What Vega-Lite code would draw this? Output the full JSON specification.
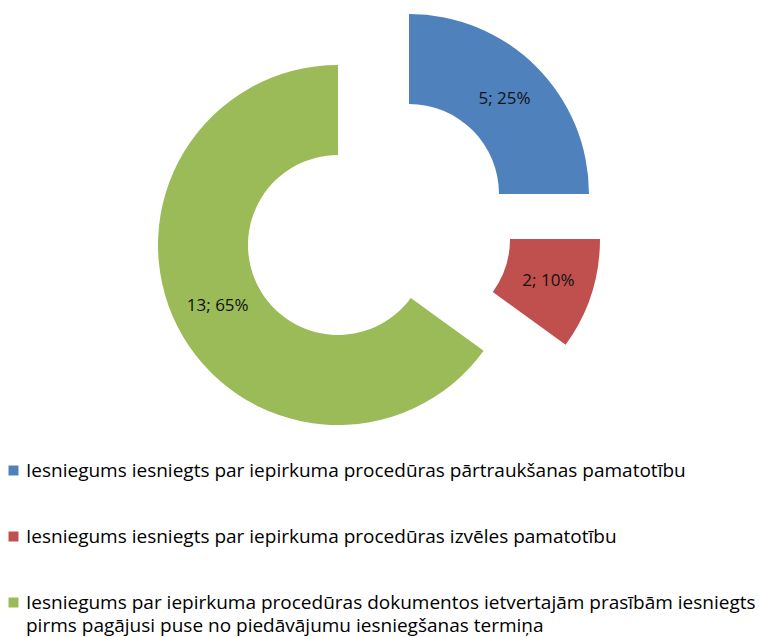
{
  "$schema": "https://vega.github.io/schema/vega-lite/v6.json",
  "width": 756,
  "height": 450,
  "padding": 0,
  "background": "white",
  "data": {"values": [
    {"category": "Iesniegums iesniegts par iepirkuma procedūras pārtraukšanas pamatotību", "value": 5, "order": 1},
    {"category": "Iesniegums iesniegts par iepirkuma procedūras izvēles pamatotību", "value": 2, "order": 2},
    {"category": "Iesniegums par iepirkuma procedūras dokumentos ietvertajām prasībām iesniegts pirms pagājusi puse no piedāvājumu iesniegšanas termiņa", "value": 13, "order": 3}
  ]},
  "transform": [
    {"joinaggregate": [{"op": "sum", "field": "value", "as": "total"}]},
    {"window": [{"op": "sum", "field": "value", "as": "cumEnd"}], "sort": [{"field": "order"}], "frame": [null, 0]},
    {"calculate": "datum.cumEnd - datum.value", "as": "cumStart"},
    {"calculate": "(datum.cumEnd + datum.cumStart) / 2", "as": "cumMid"},
    {"calculate": "datum.value + '; ' + format(datum.value / datum.total, '.0%')", "as": "label"}
  ],
  "encoding": {
    "color": {
      "field": "category", "type": "nominal",
      "scale": {
        "domain": [
          "Iesniegums iesniegts par iepirkuma procedūras pārtraukšanas pamatotību",
          "Iesniegums iesniegts par iepirkuma procedūras izvēles pamatotību",
          "Iesniegums par iepirkuma procedūras dokumentos ietvertajām prasībām iesniegts pirms pagājusi puse no piedāvājumu iesniegšanas termiņa"
        ],
        "range": ["#4F81BD", "#C0504D", "#9BBB59"]
      },
      "legend": {
        "orient": "none", "legendX": 4, "legendY": 461, "title": null,
        "direction": "vertical",
        "symbolType": "square", "symbolSize": 100, "symbolStrokeWidth": 0,
        "labelFont": "Open Sans", "labelFontSize": 19, "labelColor": "#000000",
        "labelLimit": 900, "rowPadding": 46, "labelOffset": 3, "padding": 0,
        "labelExpr": "indexof(datum.label, ' pirms') > 0 ? [slice(datum.label, 0, indexof(datum.label, ' pirms')), slice(datum.label, indexof(datum.label, ' pirms') + 1)] : datum.label"
      }
    }
  },
  "layer": [
    {
      "transform": [{"filter": "datum.order == 1"}],
      "mark": {"type": "arc", "innerRadius": 90, "outerRadius": 180, "xOffset": 31, "yOffset": -31},
      "encoding": {
        "theta": {"field": "cumStart", "type": "quantitative", "stack": null, "scale": {"domain": [0, 20]}},
        "theta2": {"field": "cumEnd"}
      }
    },
    {
      "transform": [{"filter": "datum.order == 2"}],
      "mark": {"type": "arc", "innerRadius": 90, "outerRadius": 180, "xOffset": 42, "yOffset": 14},
      "encoding": {
        "theta": {"field": "cumStart", "type": "quantitative", "stack": null, "scale": {"domain": [0, 20]}},
        "theta2": {"field": "cumEnd"}
      }
    },
    {
      "transform": [{"filter": "datum.order == 3"}],
      "mark": {"type": "arc", "innerRadius": 90, "outerRadius": 180, "xOffset": -40, "yOffset": 20},
      "encoding": {
        "theta": {"field": "cumStart", "type": "quantitative", "stack": null, "scale": {"domain": [0, 20]}},
        "theta2": {"field": "cumEnd"}
      }
    },
    {
      "transform": [{"filter": "datum.order == 1"}],
      "mark": {"type": "text", "radius": 135, "xOffset": 31, "yOffset": -31, "font": "Open Sans", "fontSize": 17},
      "encoding": {
        "theta": {"field": "cumMid", "type": "quantitative", "stack": null, "scale": {"domain": [0, 20]}},
        "text": {"field": "label"},
        "color": {"value": "#111111"}
      }
    },
    {
      "transform": [{"filter": "datum.order == 2"}],
      "mark": {"type": "text", "radius": 135, "xOffset": 42, "yOffset": 14, "font": "Open Sans", "fontSize": 17},
      "encoding": {
        "theta": {"field": "cumMid", "type": "quantitative", "stack": null, "scale": {"domain": [0, 20]}},
        "text": {"field": "label"},
        "color": {"value": "#111111"}
      }
    },
    {
      "transform": [{"filter": "datum.order == 3"}],
      "mark": {"type": "text", "radius": 135, "xOffset": -40, "yOffset": 20, "font": "Open Sans", "fontSize": 17},
      "encoding": {
        "theta": {"field": "cumMid", "type": "quantitative", "stack": null, "scale": {"domain": [0, 20]}},
        "text": {"field": "label"},
        "color": {"value": "#111111"}
      }
    }
  ],
  "config": {
    "view": {"stroke": null},
    "style": {"guide-label": {"lineHeight": 23}}
  }
}
